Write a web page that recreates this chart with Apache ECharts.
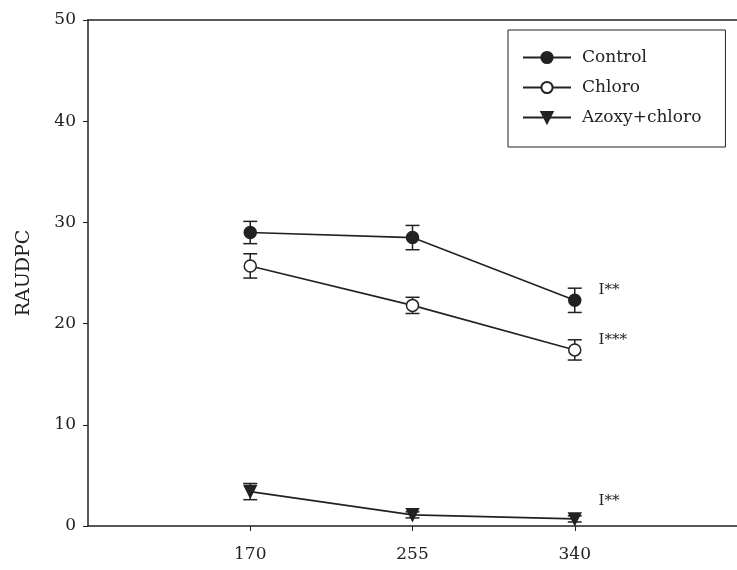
<!DOCTYPE html>
<html>
<head>
<meta charset="utf-8">
<script src="https://cdn.jsdelivr.net/npm/echarts@6/dist/echarts.min.js"></script>
<style>
  html, body { margin: 0; padding: 0; background: #fff; }
  #main { width: 737px; height: 570px; }
</style>
</head>
<body>
<div id="main"></div>
<script>
// x positions (days)
const xValues = [170, 255, 340]
// means
const control = [29.0, 28.5, 22.3]
const chloro = [25.7, 21.8, 17.4]
const azoxy = [3.4, 1.1, 0.7]
// error bar half widths
const controlErr = [1.1, 1.2, 1.2]
const chloroErr = [1.2, 0.8, 1.0]
const azoxyErr = [0.8, 0.3, 0.3]
// significance marks at last point
const marks = ['I**', 'I***', 'I**']

const ink = '#222'
const serif = 'DejaVu Serif'

const chart = echarts.init(document.getElementById('main'))

function pairs(vals) {
  return xValues.map((x, i) => [x, vals[i]])
}

// error bars drawn by custom series
function errSeries(vals, errs) {
  return {
    type: 'custom',
    silent: true,
    z: 1,
    data: xValues.map((x, i) => [x, vals[i] - errs[i], vals[i] + errs[i]]),
    renderItem(params, api) {
      const lo = api.coord([api.value(0), api.value(1)])
      const hi = api.coord([api.value(0), api.value(2)])
      const w = 7
      const style = { stroke: ink, lineWidth: 1.5 }
      return {
        type: 'group',
        children: [
          { type: 'line', shape: { x1: lo[0], y1: lo[1], x2: hi[0], y2: hi[1] }, style },
          { type: 'line', shape: { x1: lo[0] - w, y1: lo[1], x2: lo[0] + w, y2: lo[1] }, style },
          { type: 'line', shape: { x1: hi[0] - w, y1: hi[1], x2: hi[0] + w, y2: hi[1] }, style }
        ]
      }
    }
  }
}

function lineSeries(name, vals, symbol, fill, mark, offset) {
  return {
    name: name,
    type: 'line',
    z: 3,
    data: pairs(vals),
    symbol: symbol,
    symbolSize: 12,
    showAllSymbol: true,
    lineStyle: { color: ink, width: 1.6 },
    itemStyle: { color: fill, borderColor: ink, borderWidth: 1.5 },
    label: {
      show: true,
      position: 'right',
      offset: offset,
      fontFamily: serif,
      fontSize: 15,
      color: ink,
      formatter: (p) => p.dataIndex === xValues.length - 1 ? mark : ''
    }
  }
}

const option = {
  backgroundColor: '#fff',
  animation: false,
  textStyle: { fontFamily: serif },
  grid: { left: 88, right: 0, top: 20, bottom: 44 },
  legend: {
    orient: 'vertical',
    left: 508,
    top: 30,
    padding: [19, 24, 21, 14],
    itemWidth: 48,
    itemHeight: 14,
    itemGap: 13,
    borderColor: ink,
    borderWidth: 1,
    textStyle: { fontFamily: serif, fontSize: 17, color: ink, padding: [0, 0, 0, 6] },
    data: ['Control', 'Chloro', 'Azoxy+chloro']
  },
  xAxis: [{
    type: 'value',
    min: 85,
    max: 425,
    interval: 85,
    splitLine: { show: false },
    axisLine: { lineStyle: { color: ink, width: 1.5 } },
    axisTick: { customValues: xValues, length: 5, lineStyle: { color: ink } },
    axisLabel: { customValues: xValues, margin: 20, fontSize: 17, color: ink, fontFamily: serif }
  }, {
    type: 'value',
    position: 'top',
    min: 85,
    max: 425,
    axisLine: { show: true, lineStyle: { color: ink, width: 1.5 } },
    axisTick: { show: false },
    axisLabel: { show: false },
    splitLine: { show: false }
  }],
  yAxis: {
    type: 'value',
    min: 0,
    max: 50,
    interval: 10,
    name: 'RAUDPC',
    nameLocation: 'middle',
    nameGap: 54,
    nameTextStyle: { fontFamily: serif, fontSize: 19, color: ink },
    splitLine: { show: false },
    axisLine: { show: true, lineStyle: { color: ink, width: 1.5 } },
    axisTick: { show: true, length: 5, lineStyle: { color: ink } },
    axisLabel: { margin: 12, fontSize: 17, color: ink, fontFamily: serif }
  },
  series: [
    errSeries(control, controlErr),
    errSeries(chloro, chloroErr),
    errSeries(azoxy, azoxyErr),
    lineSeries('Control', control, 'circle', ink, marks[0], [12, -10]),
    lineSeries('Chloro', chloro, 'circle', '#fff', marks[1], [12, -10]),
    lineSeries('Azoxy+chloro', azoxy, 'triangle', ink, marks[2], [12, -18])
  ]
}
// downward triangle marker for the azoxy series
option.series[5].symbolRotate = 180

chart.setOption(option)
</script>
</body>
</html>
